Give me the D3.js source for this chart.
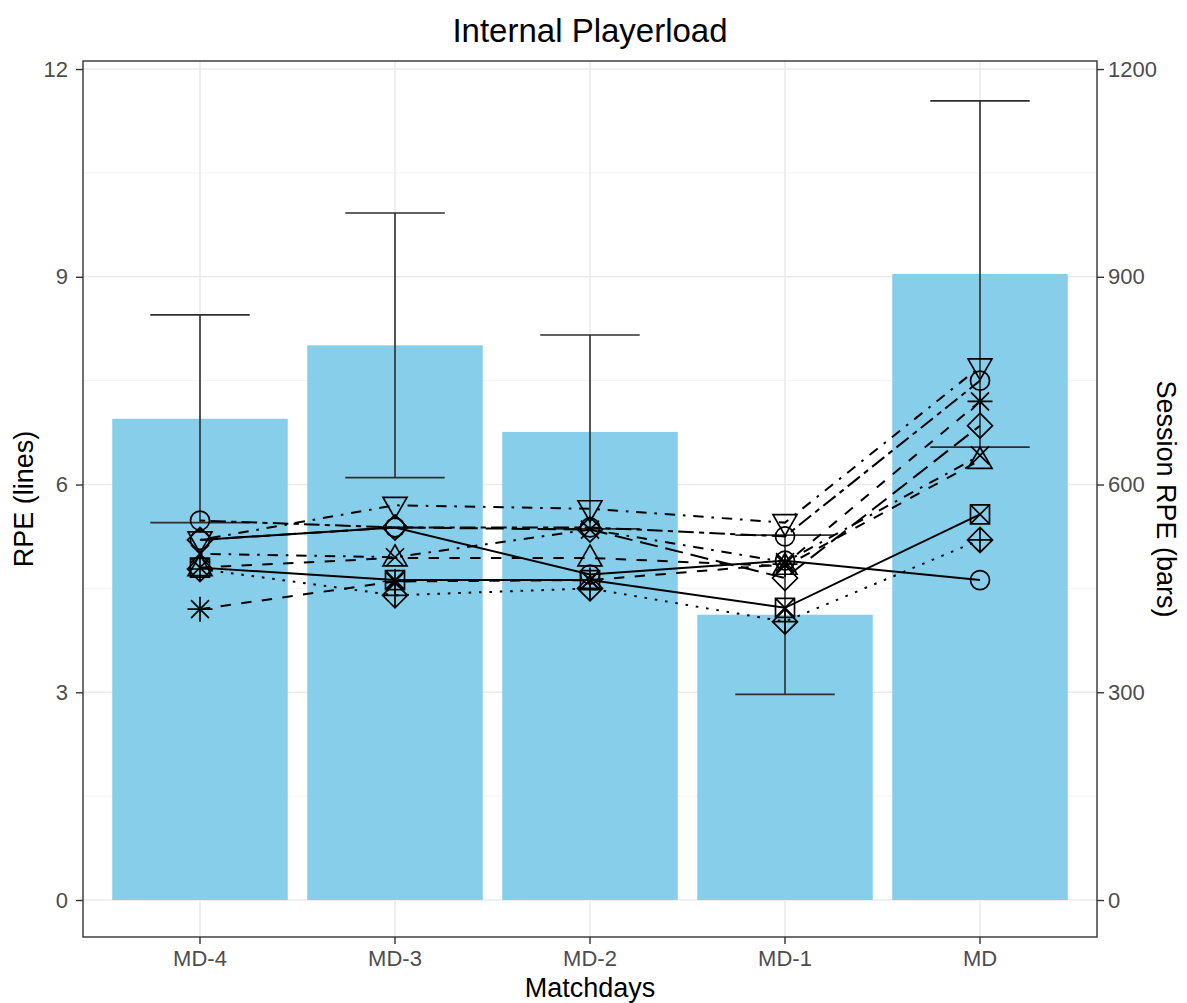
<!DOCTYPE html>
<html>
<head>
<meta charset="utf-8">
<script src="https://cdn.jsdelivr.net/npm/d3@7"></script>
<style>
  html, body { margin: 0; padding: 0; background: #ffffff; }
  svg { display: block; font-family: "Liberation Sans", Arial, Helvetica, sans-serif; }
</style>
</head>
<body>
<svg id="chart" width="1187" height="1003"></svg>
<script>
// ---------------- DATA ----------------
const matchdays = ["MD-4", "MD-3", "MD-2", "MD-1", "MD"];
const sessionRPE = [695, 801, 676, 412, 904];          // bars (right axis)
const sessionRPEsd = [150, 191, 140, 115, 250];        // error bars (right axis units)
const leftTicks = [0, 3, 6, 9, 12];
const rightTicks = [0, 300, 600, 900, 1200];
const minorTicks = [1.5, 4.5, 7.5, 10.5];

// RPE per player (lines, left axis)
const playerA = [5.2, 5.7, 5.65, 5.45, 7.7];
const playerB = [5.2, 5.38, 4.7, 4.9, 4.62];
const playerC = [4.8, 4.62, 4.62, 4.22, 5.57];
const playerD = [4.78, 4.4, 4.5, 4.02, 5.2];
const playerE = [4.2, 4.6, 4.62, 4.85, 7.2];
const playerF = [5.2, 5.38, 5.35, 4.65, 6.85];
const playerG = [4.8, 4.94, 4.94, 4.82, 6.35];
const playerH = [5.48, 5.38, 5.38, 5.25, 7.5];
const playerI = [5.0, 4.95, 5.35, 4.88, 6.42];
const players = [playerA, playerB, playerC, playerD, playerE, playerF, playerG, playerH, playerI];

// ---------------- STYLE ----------------
const u = 2.6;
const lineDash = [
  [1*u, 3*u, 4*u, 3*u],   // dotdash
  null,                   // solid
  null,                   // solid
  [1*u, 3*u],             // dotted
  [4*u, 4*u],             // dashed
  [7*u, 3*u],             // longdash
  [4*u, 4*u],             // dashed
  [2*u, 2*u, 6*u, 2*u],   // twodash
  [1*u, 3*u, 4*u, 3*u]    // dotdash
];
const shapes = ["tridown", "circle", "squarecross", "diamondplus", "asterisk", "diamond", "triup", "circle", "cross"];

// ---------------- LAYOUT ----------------
const svg = d3.select("#chart");
const panel = { left: 83, right: 1097, top: 61, bottom: 937 };

const x = d3.scaleBand().domain(matchdays)
  .range([panel.left, panel.right]).paddingInner(0.1).paddingOuter(0.15);
const cx = d => x(d) + x.bandwidth() / 2;
const y = d3.scaleLinear().domain([-0.534, 12.116]).range([panel.bottom, panel.top]);
const yR = d3.scaleLinear().domain([-53.4, 1211.6]).range([panel.bottom, panel.top]);

// panel background
svg.append("rect").attr("x", panel.left).attr("y", panel.top)
  .attr("width", panel.right - panel.left).attr("height", panel.bottom - panel.top)
  .attr("fill", "#ffffff");

// grid
const grid = svg.append("g");
grid.selectAll(".minor").data(minorTicks).join("line")
  .attr("x1", panel.left).attr("x2", panel.right)
  .attr("y1", d => y(d)).attr("y2", d => y(d))
  .attr("stroke", "#F2F2F2").attr("stroke-width", 0.9);
grid.selectAll(".majorY").data(leftTicks).join("line")
  .attr("x1", panel.left).attr("x2", panel.right)
  .attr("y1", d => y(d)).attr("y2", d => y(d))
  .attr("stroke", "#EBEBEB").attr("stroke-width", 1.6);
grid.selectAll(".majorX").data(matchdays).join("line")
  .attr("y1", panel.top).attr("y2", panel.bottom)
  .attr("x1", d => cx(d)).attr("x2", d => cx(d))
  .attr("stroke", "#EBEBEB").attr("stroke-width", 1.6);

// bars
svg.append("g").selectAll("rect").data(matchdays).join("rect")
  .attr("x", d => x(d)).attr("width", x.bandwidth())
  .attr("y", (d, i) => yR(sessionRPE[i]))
  .attr("height", (d, i) => yR(0) - yR(sessionRPE[i]))
  .attr("fill", "#87CEEB");

// error bars
const capHalf = x.step() * 0.255;
const eb = svg.append("g").attr("stroke", "#2e2e2e").attr("stroke-width", 1.6).attr("fill", "none");
matchdays.forEach((d, i) => {
  const lo = yR(sessionRPE[i] - sessionRPEsd[i]);
  const hi = yR(sessionRPE[i] + sessionRPEsd[i]);
  eb.append("line").attr("x1", cx(d)).attr("x2", cx(d)).attr("y1", lo).attr("y2", hi);
  eb.append("line").attr("x1", cx(d) - capHalf).attr("x2", cx(d) + capHalf).attr("y1", lo).attr("y2", lo);
  eb.append("line").attr("x1", cx(d) - capHalf).attr("x2", cx(d) + capHalf).attr("y1", hi).attr("y2", hi);
});

// lines
const line = d3.line().x((v, i) => cx(matchdays[i])).y(v => y(v));
const lg = svg.append("g");
players.forEach((vals, k) => {
  lg.append("path").datum(vals).attr("d", line)
    .attr("fill", "none").attr("stroke", "#000").attr("stroke-width", 2)
    .attr("stroke-dasharray", lineDash[k] ? lineDash[k].join(",") : null);
});

// point shapes
function shapePath(type) {
  const p = d3.path();
  if (type === "circle") { p.moveTo(9.5, 0); p.arc(0, 0, 9.5, 0, 2 * Math.PI); }
  else if (type === "triup") { p.moveTo(0, -13); p.lineTo(12, 8); p.lineTo(-12, 8); p.closePath(); }
  else if (type === "tridown") { p.moveTo(0, 13); p.lineTo(12, -8); p.lineTo(-12, -8); p.closePath(); }
  else if (type === "diamond" || type === "diamondplus") {
    p.moveTo(0, -12.5); p.lineTo(12.5, 0); p.lineTo(0, 12.5); p.lineTo(-12.5, 0); p.closePath();
    if (type === "diamondplus") { p.moveTo(-12.5, 0); p.lineTo(12.5, 0); p.moveTo(0, -12.5); p.lineTo(0, 12.5); }
  }
  else if (type === "squarecross") {
    p.rect(-9.5, -9.5, 19, 19);
    p.moveTo(-9.5, -9.5); p.lineTo(9.5, 9.5); p.moveTo(9.5, -9.5); p.lineTo(-9.5, 9.5);
  }
  else if (type === "cross") { p.moveTo(-9, -9); p.lineTo(9, 9); p.moveTo(9, -9); p.lineTo(-9, 9); }
  else if (type === "asterisk") {
    p.moveTo(-9, -9); p.lineTo(9, 9); p.moveTo(9, -9); p.lineTo(-9, 9);
    p.moveTo(-12.5, 0); p.lineTo(12.5, 0); p.moveTo(0, -12.5); p.lineTo(0, 12.5);
  }
  return p.toString();
}
const pg = svg.append("g");
players.forEach((vals, k) => {
  pg.selectAll(null).data(vals).join("path")
    .attr("transform", (v, i) => `translate(${cx(matchdays[i])},${y(v)})`)
    .attr("d", shapePath(shapes[k]))
    .attr("fill", "none").attr("stroke", "#000").attr("stroke-width", 1.7);
});

// panel border
svg.append("rect").attr("x", panel.left).attr("y", panel.top)
  .attr("width", panel.right - panel.left).attr("height", panel.bottom - panel.top)
  .attr("fill", "none").attr("stroke", "#333333").attr("stroke-width", 1.4);

// axes
function styleAxis(g) {
  g.select(".domain").remove();
  g.selectAll(".tick line").attr("stroke", "#333333").attr("stroke-width", 1.4);
  g.selectAll(".tick text").attr("fill", "#4D4D4D").attr("font-size", 22)
    .attr("font-family", "Liberation Sans, Arial, sans-serif");
}
svg.append("g").attr("transform", `translate(${panel.left},0)`)
  .call(d3.axisLeft(y).tickValues(leftTicks).tickSize(7).tickPadding(8).tickFormat(d3.format("d")))
  .call(styleAxis);
svg.append("g").attr("transform", `translate(${panel.right},0)`)
  .call(d3.axisRight(yR).tickValues(rightTicks).tickSize(7).tickPadding(4).tickFormat(d3.format("d")))
  .call(styleAxis);
svg.append("g").attr("transform", `translate(0,${panel.bottom})`)
  .call(d3.axisBottom(x).tickSize(7).tickPadding(6))
  .call(styleAxis);

// titles
const cxPanel = (panel.left + panel.right) / 2;
const cyPanel = (panel.top + panel.bottom) / 2;
svg.append("text").attr("x", cxPanel).attr("y", 42).attr("text-anchor", "middle")
  .attr("font-size", 33).attr("fill", "#000").text("Internal Playerload");
svg.append("text").attr("x", cxPanel).attr("y", 997).attr("text-anchor", "middle")
  .attr("font-size", 27).attr("fill", "#000").text("Matchdays");
svg.append("text").attr("transform", `translate(33,${cyPanel}) rotate(-90)`)
  .attr("text-anchor", "middle").attr("font-size", 27).attr("fill", "#000").text("RPE (lines)");
svg.append("text").attr("transform", `translate(1157,${cyPanel}) rotate(90)`)
  .attr("text-anchor", "middle").attr("font-size", 27).attr("fill", "#000").text("Session RPE (bars)");
</script>
</body>
</html>
